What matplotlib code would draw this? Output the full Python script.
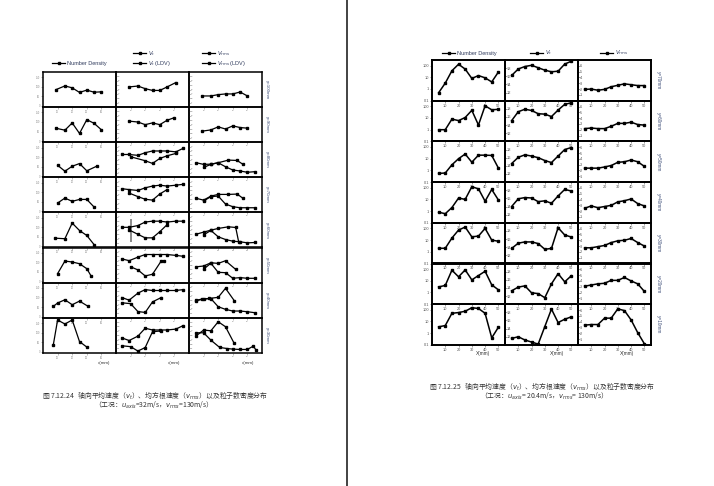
import matplotlib
matplotlib.use('agg')
import matplotlib.pyplot as plt
from matplotlib.lines import Line2D
from matplotlib.ticker import NullLocator

plt.rcParams['font.family'] = ['Liberation Sans', 'DejaVu Sans']
plt.rcParams['mathtext.fontset'] = 'dejavusans'
CJK = ['Noto Sans CJK SC', 'DejaVu Sans']

# ---------------- left page (Fig 7.12.24) ----------------
left_rows = ["y=100mm", "y=90mm", "y=80mm", "y=70mm", "y=60mm", "y=50mm", "y=40mm", "y=30mm"]

l_nd_x = [[9, 15, 20, 25, 30, 35, 40], [9, 15, 20, 25, 30, 35, 40],
          [10, 15, 20, 25, 30, 37], [10, 15, 20, 25, 30, 35],
          [8, 15, 20, 25, 30, 35], [10, 15, 20, 25, 30, 33],
          [7, 10, 15, 20, 25, 31], [7, 10, 15, 20, 25, 30]]
l_nd_y = [[86, 105, 95, 71, 83, 72, 74], [67, 57, 95, 40, 112, 93, 59],
          [57, 26, 52, 66, 28, 53], [43, 69, 52, 62, 62, 22],
          [43, 40, 122, 83, 57, 9], [41, 107, 102, 93, 67, 28],
          [53, 71, 88, 62, 81, 53], [33, 166, 145, 166, 53, 24]]

l_vt_x = [[9, 15, 20, 25, 30, 35, 41], [9, 15, 20, 25, 30, 35, 40],
          [4, 9, 15, 20, 25, 30, 35, 41, 46], [4, 9, 15, 20, 25, 30, 35, 41, 46],
          [4, 9, 15, 20, 25, 30, 35, 41, 46], [4, 9, 15, 20, 25, 30, 35, 41, 46],
          [4, 9, 15, 20, 25, 30, 35, 41, 46], [4, 9, 15, 20, 25, 30, 35, 41, 46]]
l_vt_y = [[23, 24, 21, 19, 19, 23, 28], [24, 23, 20, 22, 20, 25, 28],
          [26, 26, 25, 28, 30, 30, 30, 29, 33], [27, 26, 25, 28, 30, 31, 30, 31, 32],
          [23, 23, 25, 29, 30, 30, 29, 30, 30], [27, 25, 29, 32, 32, 32, 32, 31, 30],
          [23, 20, 28, 32, 31, 31, 31, 31, 32], [17, 14, 19, 28, 26, 26, 26, 27, 31]]

l_vtldv_x = [[], [], [10, 20, 25, 30, 35, 41], [9, 15, 20, 25, 30, 35],
             [9, 15, 20, 25, 30, 35], [10, 15, 20, 25, 31, 33],
             [4, 10, 15, 20, 25, 31], [4, 10, 15, 20, 25, 31]]
l_vtldv_y = [[], [], [23.4, 18.9, 15.8, 21.5, 24.5, 27.2], [22, 18, 15, 14, 21, 26],
             [20, 15, 11, 11, 18, 26], [18, 14.5, 7.6, 9.5, 24.7, 25],
             [17, 16, 7, 6, 18, 23], [8, 7, 2, 6, 24, 25]]
# grey error bar in the y=60mm panel
l_bar_x, l_bar_lo, l_bar_hi = 10, 6, 32

l_rms_x = [[9, 15, 20, 25, 30, 35, 40], [9, 15, 20, 25, 30, 35, 40],
           [5, 10, 15, 20, 27, 33, 37], [5, 10, 15, 20, 27, 33, 37],
           [5, 10, 15, 20, 27, 32, 34], [5, 10, 15, 20, 25, 32],
           [5, 9, 14, 20, 25, 31], [5, 10, 15, 20, 25, 31]]
l_rms_y = [[12.7, 12.7, 14.2, 15, 15, 17.2, 12.7], [12.6, 14, 17.5, 15, 18.6, 16.7, 16],
           [16.6, 14.7, 15, 16.6, 19.6, 19.2, 14.7], [16, 14, 18.6, 20.5, 20.5, 20.9, 16],
           [15.2, 17.5, 19.8, 21.7, 23.6, 22.8, 6.5], [18, 18.9, 22.6, 21.9, 24.9, 15],
           [19.4, 20.9, 22, 23.2, 33.5, 19.4], [19.4, 25.9, 25.1, 35.4, 29.7, 10.6]]

l_rmsldv_x = [[], [], [10, 15, 20, 25, 30, 35, 40, 45], [10, 15, 20, 25, 30, 35, 40, 45],
              [10, 15, 20, 25, 30, 35, 40, 45], [10, 15, 20, 25, 30, 35, 40, 45],
              [5, 10, 15, 20, 25, 30, 35, 40, 45], [5, 10, 15, 21, 26, 30, 35, 40, 44, 46]]
l_rmsldv_y = [[], [], [11.3, 14.7, 16.6, 12, 8.3, 7.2, 5.7, 6.4],
              [13, 18, 18.6, 9.5, 6.5, 5.3, 5.3, 5.3],
              [14.4, 19.4, 12.2, 9.1, 7.2, 6.5, 5.3, 5.7],
              [15.4, 22, 11.7, 11.3, 4.9, 5.7, 4.9, 4.9],
              [19.8, 21.7, 21.7, 12.5, 9.5, 7.6, 7.6, 6.8, 5.7],
              [22.8, 22.8, 14.4, 6.1, 4.9, 4.2, 3.8, 3.8, 7.6, 3.0]]

# ---------------- right page (Fig 7.12.25) ----------------
right_rows = ["y=70mm", "y=60mm", "y=50mm", "y=40mm", "y=30mm", "y=20mm", "y=10mm"]
r_x = [5, 10, 15, 20, 25, 30, 35, 40, 45, 50]
r_nd = [[0.48, 3.2, 36, 130, 50, 8, 14, 9, 4, 28],
        [1.0, 1.0, 8, 6, 11, 45, 2.5, 110, 50, 55],
        [0.55, 0.6, 3, 10, 25, 5, 20, 20, 19, 1.6],
        [0.8, 0.6, 2, 13, 10, 120, 80, 7, 70, 9],
        [2.0, 2.0, 15, 72, 130, 19, 22, 100, 10, 8],
        [3.0, 4.0, 80, 22, 85, 12, 28, 65, 4.5, 1.7],
        [3.5, 4.5, 50, 58, 75, 150, 130, 50, 0.4, 3.2]]
r_vt = [[16.2, 17.8, 18.4, 18.7, 18.1, 17.5, 17.1, 17.25, 19.0, 19.7],
        [15.1, 17.3, 17.9, 17.6, 16.8, 16.7, 16.1, 17.7, 19.1, 19.5],
        [14.55, 16.1, 16.7, 16.4, 16.0, 15.3, 14.8, 16.4, 18.0, 18.5],
        [14.0, 15.9, 16.2, 16.1, 15.2, 15.4, 14.8, 16.6, 18.2, 17.8],
        [13.7, 15.0, 15.3, 15.3, 14.9, 13.5, 13.7, 18.8, 17.0, 16.5],
        [13.3, 14.2, 14.5, 12.8, 12.6, 11.6, 15.0, 17.5, 15.5, 17.0],
        [11.6, 12.0, 11.2, 10.7, 10.2, 14.5, 18.8, 15.5, 16.3, 16.9]]
r_vrms = [[1.95, 2.0, 1.8, 1.95, 2.4, 2.65, 2.9, 2.75, 2.6, 2.6],
          [2.2, 2.3, 2.2, 2.2, 2.6, 3.1, 3.1, 3.3, 2.9, 2.8],
          [2.4, 2.4, 2.4, 2.6, 2.85, 3.4, 3.5, 3.8, 3.5, 2.7],
          [2.5, 2.9, 2.6, 2.8, 3.0, 3.6, 3.8, 4.1, 3.3, 2.9],
          [2.7, 2.7, 2.9, 3.1, 3.6, 3.9, 4.0, 4.3, 3.6, 3.0],
          [3.1, 3.3, 3.5, 3.6, 4.1, 4.1, 4.6, 4.0, 3.5, 2.2],
          [3.4, 3.5, 3.5, 4.6, 4.6, 6.2, 5.9, 4.3, 2.1, 0.2]]

W, H = 714, 486
fig = plt.figure(figsize=(W / 100, H / 100), dpi=100)
fig.patch.set_facecolor('white')


def box(x0, y0, w, h):
    return [x0 / W, 1 - (y0 + h) / H, w / W, h / H]


def style(ax, lw, lsize, inside, tcolor='#555555'):
    for s in ax.spines.values():
        s.set_linewidth(lw)
    ax.set_facecolor('none')
    ax.tick_params(labelsize=lsize, colors=tcolor, length=1.3, width=0.4, pad=0.8)
    ax.yaxis.set_minor_locator(NullLocator())
    if inside:
        ax.tick_params(axis='y', direction='in', pad=-1.5)
        for t in ax.get_yticklabels():
            t.set_horizontalalignment('left')


def line(ax, x, y, lw=0.9, ms=1.5):
    ax.plot(x, y, '-s', color='black', lw=lw, ms=ms)


# left page panels
LX, LY, LW, LH = 43, 72, 73, 35.1
for i in range(8):
    ax1 = fig.add_axes(box(LX, LY + i * LH, LW, LH))
    line(ax1, l_nd_x[i], l_nd_y[i])
    ax1.set_xlim(0, 50)
    ax1.set_ylim(-6, 178)
    ax1.set_xticks([10, 20, 30, 40])
    ax1.set_yticks([0, 50, 100, 150])
    style(ax1, 1.1, 1.8, False, '#888888')

    ax2 = fig.add_axes(box(LX + LW, LY + i * LH, LW, LH))
    if i == 4:
        ax2.vlines(l_bar_x, l_bar_lo, l_bar_hi, color='#8a8a8a', lw=1.4)
    line(ax2, l_vt_x[i], l_vt_y[i])
    if l_vtldv_x[i]:
        line(ax2, l_vtldv_x[i], l_vtldv_y[i])
    ax2.set_xlim(0, 50)
    ax2.set_ylim(0, 40)
    ax2.set_xticks([10, 20, 30, 40])
    ax2.set_yticks([5, 10, 15, 20, 25, 30, 35])
    style(ax2, 1.1, 1.6, True, '#888888')

    ax3 = fig.add_axes(box(LX + 2 * LW, LY + i * LH, LW, LH))
    line(ax3, l_rms_x[i], l_rms_y[i])
    if l_rmsldv_x[i]:
        line(ax3, l_rmsldv_x[i], l_rmsldv_y[i])
    ax3.set_xlim(0, 50)
    ax3.set_ylim(0, 40)
    ax3.set_xticks([10, 20, 30, 40])
    ax3.set_yticks([5, 10, 15, 20, 25, 30, 35])
    style(ax3, 1.1, 1.6, True, '#888888')

    fig.text(267 / W, 1 - (LY + (i + 0.5) * LH) / H, left_rows[i], rotation=270,
             ha='center', va='center', fontsize=3.2, color='#40507a')

for xp in [104, 174, 248]:
    fig.text(xp / W, 1 - 362.5 / H, 'x(mm)', ha='center', va='center', fontsize=3.2, color='#333')

# right page panels
RX, RY, RW, RH = 432, 60, 73, 40.7
for i in range(7):
    ax1 = fig.add_axes(box(RX, RY + i * RH, RW, RH))
    line(ax1, r_x, r_nd[i], lw=1.1, ms=1.8)
    ax1.set_yscale('log')
    ax1.set_xlim(0, 55)
    ax1.set_ylim(0.1, 300)
    ax1.set_yticks([0.1, 1, 10, 100])
    ax1.set_yticklabels(['0.1', '1', '10', '100'])
    ax1.set_xticks([10, 20, 30, 40, 50])
    style(ax1, 1.4, 2.8, False)

    ax2 = fig.add_axes(box(RX + RW, RY + i * RH, RW, RH))
    line(ax2, r_x, r_vt[i], lw=1.1, ms=1.8)
    ax2.set_xlim(0, 55)
    ax2.set_ylim(10, 20)
    ax2.set_xticks([10, 20, 30, 40, 50])
    ax2.set_yticks([12, 14, 16, 18])
    style(ax2, 1.4, 2.8, True)

    ax3 = fig.add_axes(box(RX + 2 * RW, RY + i * RH, RW, RH))
    line(ax3, r_x, r_vrms[i], lw=1.1, ms=1.8)
    ax3.set_xlim(0, 55)
    ax3.set_ylim(0, 7)
    ax3.set_xticks([10, 20, 30, 40, 50])
    ax3.set_yticks([1, 2, 3, 4, 5, 6])
    style(ax3, 1.4, 2.8, True)

    fig.text(658 / W, 1 - (RY + (i + 0.5) * RH) / H, right_rows[i], rotation=270,
             ha='center', va='center', fontsize=3.4, color='#40507a')

for xp in [483, 557, 627]:
    fig.text(xp / W, 1 - 353 / H, 'X(mm)', ha='center', va='center', fontsize=3.4, color='#333')

# legends
def legend(labels, x, y):
    hs = [Line2D([], [], color='black', marker='s', ms=1.5, lw=0.9) for _ in labels]
    fig.legend(hs, labels, loc='center left', bbox_to_anchor=(x / W, 1 - y / H),
               frameon=False, fontsize=4, handlelength=2.4, handletextpad=0.3,
               labelspacing=0.25, borderpad=0, borderaxespad=0, labelcolor='#2f3a5c')

legend(['Number Density'], 52, 63)
legend(['$V_t$', '$V_t$ (LDV)'], 133, 58.5)
legend(['$V_{rms}$', '$V_{rms}$ (LDV)'], 202, 58.5)
legend(['Number Density'], 442, 53)
legend(['$V_t$'], 530, 53)
legend(['$V_{rms}$'], 600, 53)

# captions
fig.text(155 / W, 1 - 395 / H,
         '图 7.12.24   轴向平均速度（$v_t$）、均方根速度（$v_{rms}$）以及粒子数密度分布',
         ha='center', va='center', fontsize=4.9, family=CJK, color='#333')
fig.text(152 / W, 1 - 405 / H, '（工况：$u_{axis}$=32m/s，$v_{rms}$=130m/s）',
         ha='center', va='center', fontsize=4.9, family=CJK, color='#333')
fig.text(542 / W, 1 - 386 / H,
         '图 7.12.25   轴向平均速度（$v_t$）、均方根速度（$v_{rms}$）以及粒子数密度分布',
         ha='center', va='center', fontsize=4.9, family=CJK, color='#333')
fig.text(542 / W, 1 - 396 / H, '（工况：$u_{axis}$= 20.4m/s，$v_{rms}$= 130m/s）',
         ha='center', va='center', fontsize=4.9, family=CJK, color='#333')

# page divider
fig.add_artist(Line2D([347 / W, 347 / W], [0, 1], color='#222222', lw=1.2))

fig.savefig('out.png', dpi=100)
